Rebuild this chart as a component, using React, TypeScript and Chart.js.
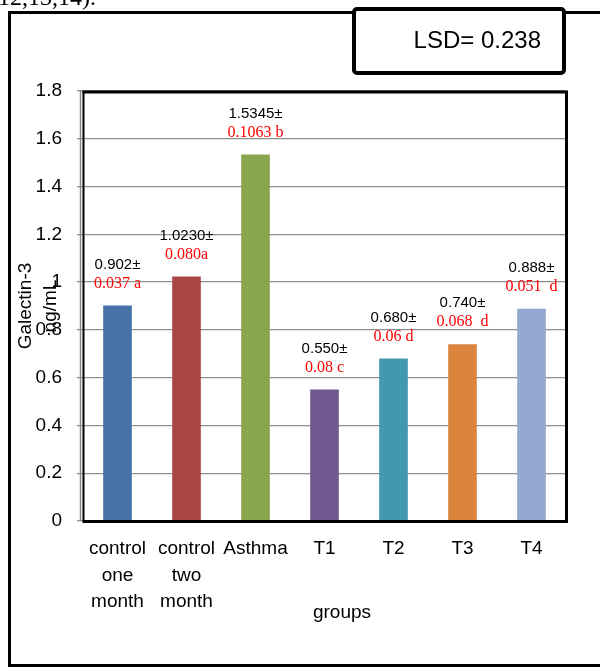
import React, { useEffect, useRef } from 'react';
import { Chart, registerables } from 'chart.js';

Chart.register(...registerables);

const categories: (string | string[])[] = [
  ['control', 'one', 'month'],
  ['control', 'two', 'month'],
  'Asthma',
  'T1',
  'T2',
  'T3',
  'T4',
];
const values = [0.902, 1.023, 1.5345, 0.55, 0.68, 0.74, 0.888];
const meanLabels = ['0.902±', '1.0230±', '1.5345±', '0.550±', '0.680±', '0.740±', '0.888±'];
const errorLabels = ['0.037 a', '0.080a', '0.1063 b', '0.08 c', '0.06 d', '0.068  d', '0.051  d'];
const barColors = ['#4572A7', '#AA4643', '#89A54E', '#71588F', '#4198AF', '#DB843D', '#93A9CF'];
const yTitleLines = ['Galectin-3', 'ng/mL'];
const xTitle = 'groups';
const lsdText = 'LSD= 0.238';
const headerFragment = '12,13,14).';
const yMin = 0;
const yMax = 1.8;
const yStep = 0.2;

const SANS = '"Liberation Sans", Arial, sans-serif';
const SERIF = '"Liberation Serif", "Times New Roman", serif';

const barLabels = {
  id: 'barLabels',
  afterDatasetsDraw(chart: any) {
    const ctx = chart.ctx;
    const meta = chart.getDatasetMeta(0);
    ctx.save();
    ctx.textAlign = 'center';
    ctx.textBaseline = 'middle';
    meta.data.forEach((el: any, i: number) => {
      ctx.fillStyle = '#000';
      ctx.font = `15px ${SANS}`;
      ctx.fillText(meanLabels[i], el.x, el.y - 41);
      ctx.fillStyle = '#FF0000';
      ctx.font = `16px ${SERIF}`;
      ctx.fillText(errorLabels[i], el.x, el.y - 22);
    });
    ctx.restore();
  },
};

const decor = {
  id: 'decor',
  beforeDraw(chart: any) {
    const ctx = chart.ctx;
    ctx.save();
    ctx.fillStyle = '#fff';
    ctx.fillRect(0, 0, chart.width, chart.height);
    ctx.restore();
  },
  afterDraw(chart: any) {
    const ctx = chart.ctx;
    const { left, top, right, bottom } = chart.chartArea;
    ctx.save();

    // header fragment (cut off at top)
    ctx.fillStyle = '#000';
    ctx.font = `24px ${SERIF}`;
    ctx.textAlign = 'left';
    ctx.textBaseline = 'alphabetic';
    ctx.fillText(headerFragment, -2, 5);

    // outer frame
    ctx.strokeStyle = '#000';
    ctx.lineWidth = 3;
    ctx.beginPath();
    ctx.moveTo(620, 12.5);
    ctx.lineTo(9.5, 12.5);
    ctx.lineTo(9.5, 665.5);
    ctx.lineTo(620, 665.5);
    ctx.stroke();

    // LSD box
    ctx.beginPath();
    ctx.lineWidth = 4;
    (ctx as any).roundRect(354, 9, 210, 64, 3);
    ctx.fillStyle = '#fff';
    ctx.fill();
    ctx.stroke();
    ctx.fillStyle = '#000';
    ctx.font = `24px ${SANS}`;
    ctx.textAlign = 'right';
    ctx.textBaseline = 'middle';
    ctx.fillText(lsdText, 541, 41);

    // gray axis line
    ctx.strokeStyle = '#8a8a8a';
    ctx.lineWidth = 1.5;
    ctx.beginPath();
    ctx.moveTo(left - 2.5, top);
    ctx.lineTo(left - 2.5, bottom);
    ctx.stroke();

    // black plot frame
    ctx.strokeStyle = '#000';
    ctx.lineWidth = 2;
    ctx.beginPath();
    ctx.moveTo(left + 0.5, top);
    ctx.lineTo(left + 0.5, bottom);
    ctx.stroke();
    ctx.lineWidth = 3;
    ctx.beginPath();
    ctx.moveTo(left - 0.5, top + 1);
    ctx.lineTo(right + 0.5, top + 1);
    ctx.lineTo(right + 0.5, bottom + 0.5);
    ctx.lineTo(left - 0.5, bottom + 0.5);
    ctx.stroke();

    // y title
    const cy = (top + bottom) / 2;
    ctx.fillStyle = '#000';
    ctx.font = `19px ${SANS}`;
    ctx.textAlign = 'center';
    ctx.textBaseline = 'middle';
    const xs = [26, 51];
    yTitleLines.forEach((t, i) => {
      ctx.save();
      ctx.translate(xs[i], cy);
      ctx.rotate(-Math.PI / 2);
      ctx.fillText(t, 0, 0);
      ctx.restore();
    });

    // x title
    ctx.fillText(xTitle, 342, 613);

    ctx.restore();
  },
};

export default function App() {
  const ref = useRef<HTMLCanvasElement>(null);
  useEffect(() => {
    if (!ref.current) return;
    const chart = new Chart(ref.current, {
      type: 'bar',
      data: {
        labels: categories as any,
        datasets: [
          {
            data: values,
            backgroundColor: barColors,
            borderWidth: 0,
            barPercentage: 0.415,
            categoryPercentage: 1,
          },
        ],
      },
      options: {
        responsive: false,
        animation: false,
        devicePixelRatio: 1,
        layout: { padding: { left: 0, right: 34, top: 91, bottom: 0 } },
        plugins: {
          legend: { display: false },
          tooltip: { enabled: false },
          title: { display: false },
        },
        scales: {
          x: {
            grid: { display: false, drawTicks: false },
            border: { display: false },
            ticks: {
              color: '#000',
              font: { family: SANS, size: 19, lineHeight: 1.39 },
              padding: 15,
              maxRotation: 0,
              autoSkip: false,
            },
            afterFit(scale: any) {
              scale.height = 147;
            },
          },
          y: {
            min: yMin,
            max: yMax,
            grid: {
              color: '#8f8f8f',
              lineWidth: 1.3,
              tickLength: 6,
              drawTicks: true,
            },
            border: { display: false },
            ticks: {
              stepSize: yStep,
              color: '#000',
              font: { family: SANS, size: 19 },
              padding: 15,
              callback: (v: any) => String(Number(Number(v).toFixed(1))),
            },
            afterFit(scale: any) {
              scale.width = 83;
            },
          },
        },
      },
      plugins: [decor, barLabels],
    });
    return () => chart.destroy();
  }, []);
  return (
    <div style={{ position: 'fixed', left: 0, top: 0, width: 600, height: 668, background: '#fff' }}>
      <canvas ref={ref} width={600} height={668} style={{ display: 'block' }} />
    </div>
  );
}
